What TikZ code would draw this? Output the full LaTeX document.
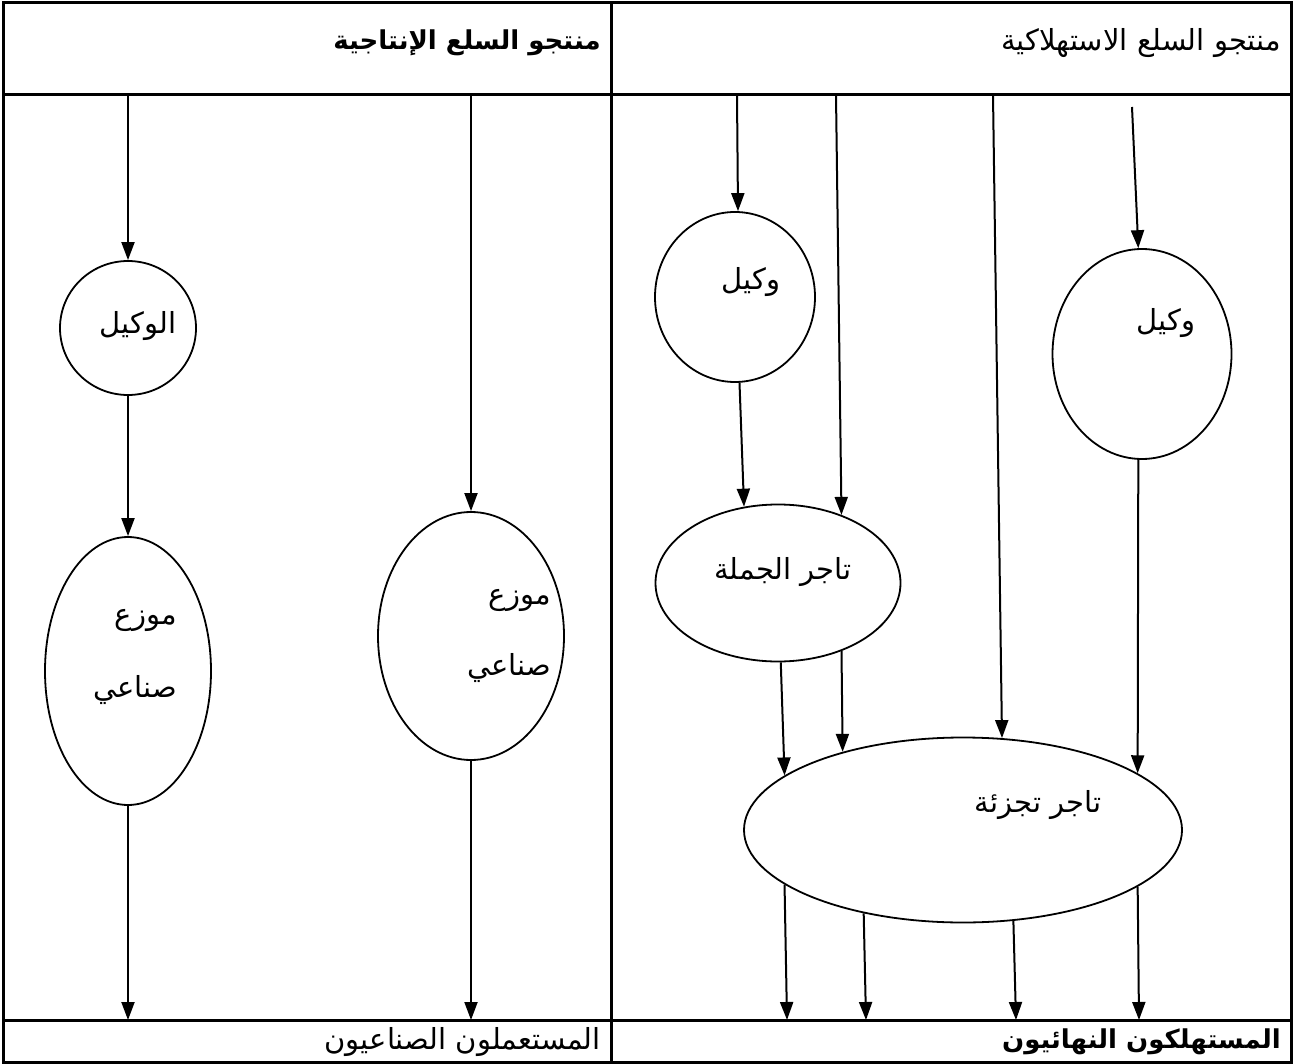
\documentclass[tikz,border=0pt]{standalone}
\usepackage{fontspec}
\usetikzlibrary{shapes.geometric,arrows.meta}
\TeXXeTstate=1
\newfontfamily\arabicfont[Script=Arabic]{DejaVu Sans}
\begin{document}
\begin{tikzpicture}[x=1pt,y=-1pt,
  frame/.style={line width=3pt},
  oval/.style={draw,ellipse,line width=1.8pt,inner sep=0pt},
  flow/.style={line width=2pt,-{Triangle[length=18pt,width=13pt]}},
  txt/.style={font=\arabicfont\fontsize{29}{34}\selectfont,inner sep=0pt},
  btxt/.style={font=\arabicfont\bfseries\fontsize{26}{31}\selectfont,inner sep=0pt}]
\useasboundingbox (0,0) rectangle (1293,1064);
% table
\draw[frame] (3,3) rectangle (1291,1062);
\draw[frame] (3,95) -- (1291,95);
\draw[frame] (3,1020) -- (1291,1020);
\draw[frame] (611,3) -- (611,1062);
% headers
\node[txt,anchor=east] (hcons) at (1281,43) {\beginR منتجو السلع الاستهلاكية\endR};
\node[btxt,anchor=east] (hprod) at (601,43) {\beginR منتجو السلع الإنتاجية\endR};
\node[btxt,anchor=east] (fcons) at (1281,1042) {\beginR المستهلكون النهائيون\endR};
\node[txt,anchor=east] (fprod) at (601,1042) {\beginR المستعملون الصناعيون\endR};
% left part
\node[oval,minimum width=136pt,minimum height=134pt] (wak) at (128,328) {};
\node[txt] (twak) at (138,326) {\beginR الوكيل\endR};
\node[oval,minimum width=166pt,minimum height=268pt] (d1) at (128,671) {};
\node[txt,anchor=east] (td1a) at (177,620) {\beginR موزع\endR};
\node[txt,anchor=east] (td1b) at (177,690) {\beginR صناعي\endR};
\node[oval,minimum width=186pt,minimum height=248pt] (d2) at (471,636) {};
\node[txt,anchor=east] (td2a) at (551,600) {\beginR موزع\endR};
\node[txt,anchor=east] (td2b) at (551,668) {\beginR صناعي\endR};
\coordinate (l1) at (128,95);
\coordinate (l2) at (471,95);
\coordinate (lb1) at (128,1020);
\coordinate (lb2) at (471,1020);
\draw[flow] (l1) -- (wak.north);
\draw[flow] (wak.south) -- (d1.north);
\draw[flow] (d1.south) -- (lb1);
\draw[flow] (l2) -- (d2.north);
\draw[flow] (d2.south) -- (lb2);
% right part
\node[oval,minimum width=160pt,minimum height=170pt] (ag1) at (735,297) {};
\node[txt] (tag1) at (751,282) {\beginR وكيل\endR};
\node[oval,minimum width=179pt,minimum height=210pt] (ag2) at (1142,354) {};
\node[txt] (tag2) at (1166,323) {\beginR وكيل\endR};
\node[oval,minimum width=245pt,minimum height=157pt] (ws) at (778,583) {};
\node[txt] (tws) at (783,572) {\beginR تاجر الجملة\endR};
\node[oval,minimum width=438pt,minimum height=185pt] (rt) at (963,830) {};
\node[txt] (trt) at (1038,805) {\beginR تاجر تجزئة\endR};
\coordinate (r1) at (737,95);
\coordinate (r2) at (836,95);
\coordinate (r3) at (993,95);
\coordinate (r4) at (1132,107);
\coordinate (b1) at (787,1020);
\coordinate (b2) at (866,1020);
\coordinate (b3) at (1016,1020);
\coordinate (b4) at (1139,1020);
\draw[flow] (r1) -- (ag1.88);
\draw[flow] (ag1.-87) -- (ws.114);
\draw[flow] (r2) -- (ws.47.5);
\draw[flow] (r3) -- (rt.67);
\draw[flow] (r4) -- (ag2.92);
\draw[flow] (ag2.-92) -- (rt.18);
\draw[flow] (ws.-88) -- (rt.163);
\draw[flow] (ws.-47) -- (rt.147);
\draw[flow] (rt.-163) -- (b1);
\draw[flow] (rt.-140) -- (b2);
\draw[flow] (rt.-61) -- (b3);
\draw[flow] (rt.-18) -- (b4);
\end{tikzpicture}
\end{document}
